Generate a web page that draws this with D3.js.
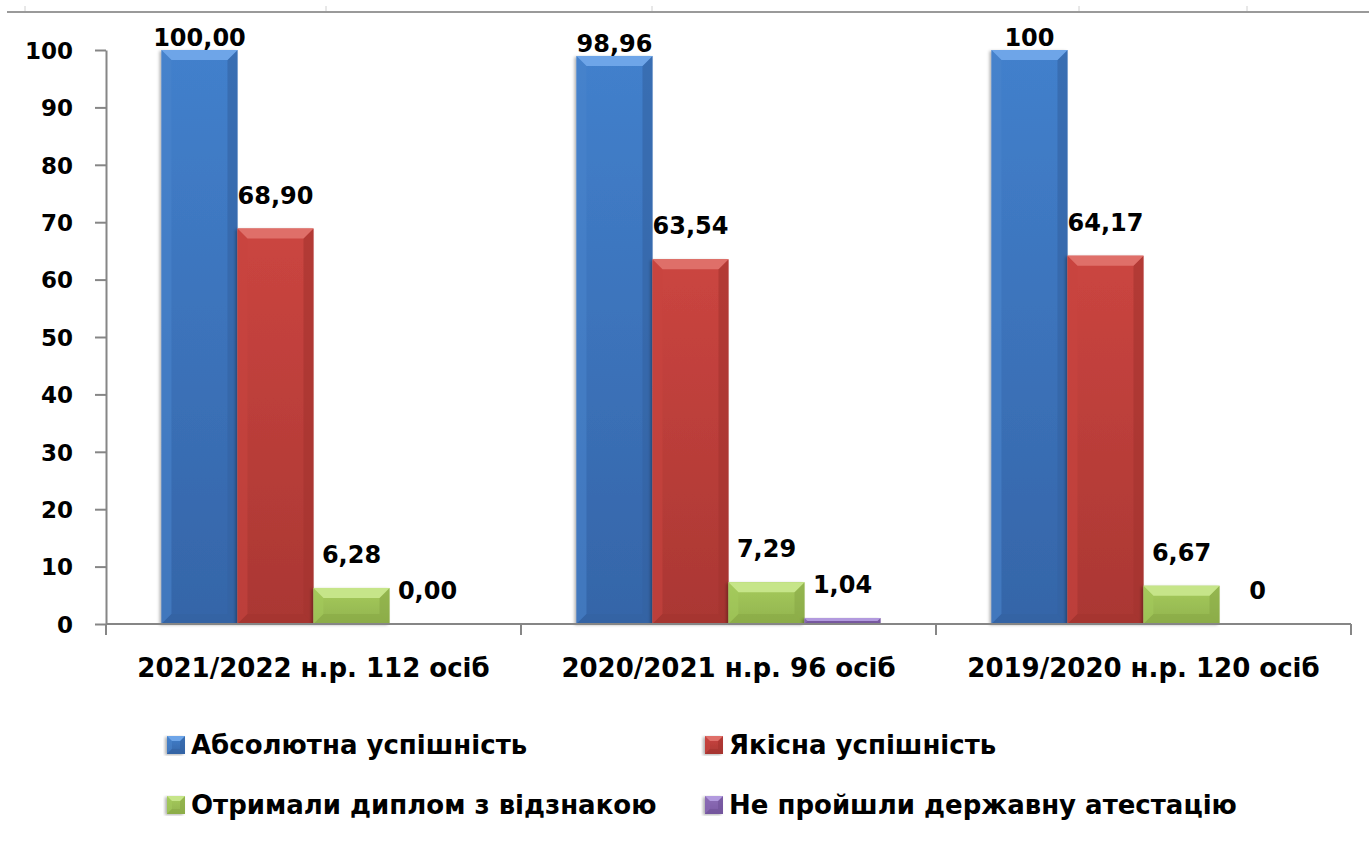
<!DOCTYPE html>
<html>
<head>
<meta charset="utf-8">
<script src="https://cdn.jsdelivr.net/npm/d3@7"></script>
<style>
  body { margin: 0; background: #fff; }
  text { font-family: "DejaVu Sans", Verdana, sans-serif; font-weight: bold; fill: #000; }
</style>
</head>
<body>
<div class="chart"></div>
<script>
// data
var categories = ["2021/2022 н.р. 112 осіб", "2020/2021 н.р. 96 осіб", "2019/2020 н.р. 120 осіб"];
var seriesNames = ["Абсолютна успішність", "Якісна успішність", "Отримали диплом з відзнакою", "Не пройшли державну атестацію"];
var absolute = [100.00, 98.96, 100];
var quality = [68.90, 63.54, 64.17];
var honours = [6.28, 7.29, 6.67];
var failed = [0.00, 1.04, 0];
var absoluteLabels = ["100,00", "98,96", "100"];
var qualityLabels = ["68,90", "63,54", "64,17"];
var honoursLabels = ["6,28", "7,29", "6,67"];
var failedLabels = ["0,00", "1,04", "0"];
var yTicks = [0, 10, 20, 30, 40, 50, 60, 70, 80, 90, 100];

var seriesValues = [absolute, quality, honours, failed];
var seriesLabels = [absoluteLabels, qualityLabels, honoursLabels, failedLabels];

// colours for each series: face top, face bottom, top bevel, side bevel, dark bevel
var palette = [
  {top: "#4280cc", bottom: "#3565a8", bevel: "#6ea5e8", side: "#4a84cc", dark: "#3462a2"},
  {top: "#cb4540", bottom: "#aa3733", bevel: "#df6f69", side: "#c8443f", dark: "#a3342f"},
  {top: "#a6cb5d", bottom: "#91b34d", bevel: "#c6e589", side: "#a4c95b", dark: "#88a846"},
  {top: "#8e6eb8", bottom: "#7b5ba5", bevel: "#b29ade", side: "#8a6ab4", dark: "#705198"}
];

var svgWidth = 1369;
var svgHeight = 849;

var margin = {top: 50, left: 106, right: 18, bottom: 225};
var plotBottom = svgHeight - margin.bottom; // 624
var plotRight = svgWidth - margin.right;

var svg = d3.select(".chart")
  .append("svg")
  .attr("width", svgWidth)
  .attr("height", svgHeight);

var defs = svg.append("defs");
palette.forEach(function(p, i) {
  var grad = defs.append("linearGradient")
    .attr("id", "face" + i)
    .attr("x1", 0).attr("y1", 0).attr("x2", 0).attr("y2", 1);
  grad.append("stop").attr("offset", "0%").attr("stop-color", p.top);
  grad.append("stop").attr("offset", "100%").attr("stop-color", p.bottom);
});
var shadow = defs.append("filter").attr("id", "shadow")
  .attr("x", "-20%").attr("y", "-5%").attr("width", "140%").attr("height", "115%");
shadow.append("feDropShadow")
  .attr("dx", -2).attr("dy", 1).attr("stdDeviation", 1.5)
  .attr("flood-color", "#000").attr("flood-opacity", 0.3);

// decorative ruler line at the top
var topTicks = [25, 326, 652, 1079, 1247];
svg.append("line")
  .attr("x1", 7).attr("x2", svgWidth).attr("y1", 12).attr("y2", 12)
  .attr("stroke", "#9a9a9a").attr("stroke-width", 2);
svg.selectAll(".topTick").data(topTicks).enter().append("line")
  .attr("x1", d => d).attr("x2", d => d).attr("y1", 6).attr("y2", 11)
  .attr("stroke", "#d0d0d0").attr("stroke-width", 1);

// scales
var x0 = d3.scaleBand()
  .domain(categories)
  .range([margin.left, plotRight])
  .padding(0);

var x1 = d3.scaleBand()
  .domain(d3.range(seriesNames.length))
  .range([0, x0.bandwidth()])
  .paddingInner(0)
  .paddingOuter(0.73);

var y = d3.scaleLinear()
  .domain([0, 100])
  .range([plotBottom, margin.top]);

// y axis
var yAxis = svg.append("g")
  .attr("transform", `translate(${margin.left},0)`)
  .call(d3.axisLeft(y).tickValues(yTicks).tickSize(11).tickSizeOuter(0).tickPadding(22));
yAxis.select(".domain").attr("stroke", "#868686").attr("stroke-width", 2);
yAxis.selectAll(".tick line").attr("stroke", "#868686").attr("stroke-width", 2);
yAxis.selectAll(".tick text")
  .attr("font-size", "23px")
  .attr("font-family", null)
  .attr("dy", "0.36em");
yAxis.attr("font-family", null);

// bevelled bar
function drawBar(g, x, yTop, w, h, s, bmax) {
  var p = palette[s];
  var b = Math.min(bmax || 10, h / 2, w / 2);
  var x2 = x + w, y2 = yTop + h;
  g.append("rect")
    .attr("x", x).attr("y", yTop).attr("width", w).attr("height", h)
    .attr("fill", `url(#face${s})`)
    .attr("filter", "url(#shadow)");
  if (b < 1) return;
  // left
  g.append("polygon")
    .attr("points", [[x, yTop], [x + b, yTop + b], [x + b, y2 - b], [x, y2]].join(" "))
    .attr("fill", p.side).attr("opacity", 0.6);
  // right
  g.append("polygon")
    .attr("points", [[x2, yTop], [x2 - b, yTop + b], [x2 - b, y2 - b], [x2, y2]].join(" "))
    .attr("fill", p.dark).attr("opacity", 0.6);
  // bottom
  g.append("polygon")
    .attr("points", [[x, y2], [x + b, y2 - b], [x2 - b, y2 - b], [x2, y2]].join(" "))
    .attr("fill", p.dark).attr("opacity", 0.6);
  // top
  g.append("polygon")
    .attr("points", [[x, yTop], [x2, yTop], [x2 - b, yTop + b], [x + b, yTop + b]].join(" "))
    .attr("fill", p.bevel);
}

var barsGroup = svg.append("g");
categories.forEach(function(cat, ci) {
  seriesValues.forEach(function(vals, si) {
    var v = vals[ci];
    var bx = x0(cat) + x1(si);
    var bw = x1.bandwidth();
    var top = y(v);
    var h = Math.max(plotBottom - top, 0);
    if (h > 0) drawBar(barsGroup, bx, top, bw, h, si, 10);
  });
});

// x axis line and boundary ticks
svg.append("line")
  .attr("x1", margin.left).attr("x2", plotRight)
  .attr("y1", plotBottom).attr("y2", plotBottom)
  .attr("stroke", "#868686").attr("stroke-width", 2);
var bounds = categories.map(c => x0(c)).concat([plotRight]);
svg.selectAll(".xTick").data(bounds).enter().append("line")
  .attr("x1", d => d).attr("x2", d => d)
  .attr("y1", plotBottom).attr("y2", plotBottom + 11)
  .attr("stroke", "#868686").attr("stroke-width", 2);

// category labels
var xAxis = svg.append("g")
  .attr("transform", `translate(0,${plotBottom})`)
  .call(d3.axisBottom(x0).tickSize(0).tickPadding(0));
xAxis.select(".domain").remove();
xAxis.attr("font-family", null);
xAxis.selectAll(".tick text")
  .attr("font-size", "26px")
  .attr("font-family", null)
  .attr("dy", null)
  .attr("y", 53);

// value labels
var labelGroup = svg.append("g");
categories.forEach(function(cat, ci) {
  seriesValues.forEach(function(vals, si) {
    var cx = x0(cat) + x1(si) + x1.bandwidth() / 2;
    var off = si === 0 ? 4 : 25;
    labelGroup.append("text")
      .attr("x", cx)
      .attr("y", y(vals[ci]) - off)
      .attr("text-anchor", "middle")
      .attr("font-size", "24px")
      .text(seriesLabels[si][ci]);
  });
});

// legend
var legendPos = [[167, 745], [705, 745], [167, 805], [705, 805]];
var legend = svg.append("g");
seriesNames.forEach(function(name, i) {
  var lx = legendPos[i][0], ly = legendPos[i][1];
  drawBar(legend, lx, ly - 9, 18, 18, i, 5);
  legend.append("text")
    .attr("x", lx + 24)
    .attr("y", ly)
    .attr("dy", "0.36em")
    .attr("font-size", "26px")
    .text(name);
});
</script>
</body>
</html>
